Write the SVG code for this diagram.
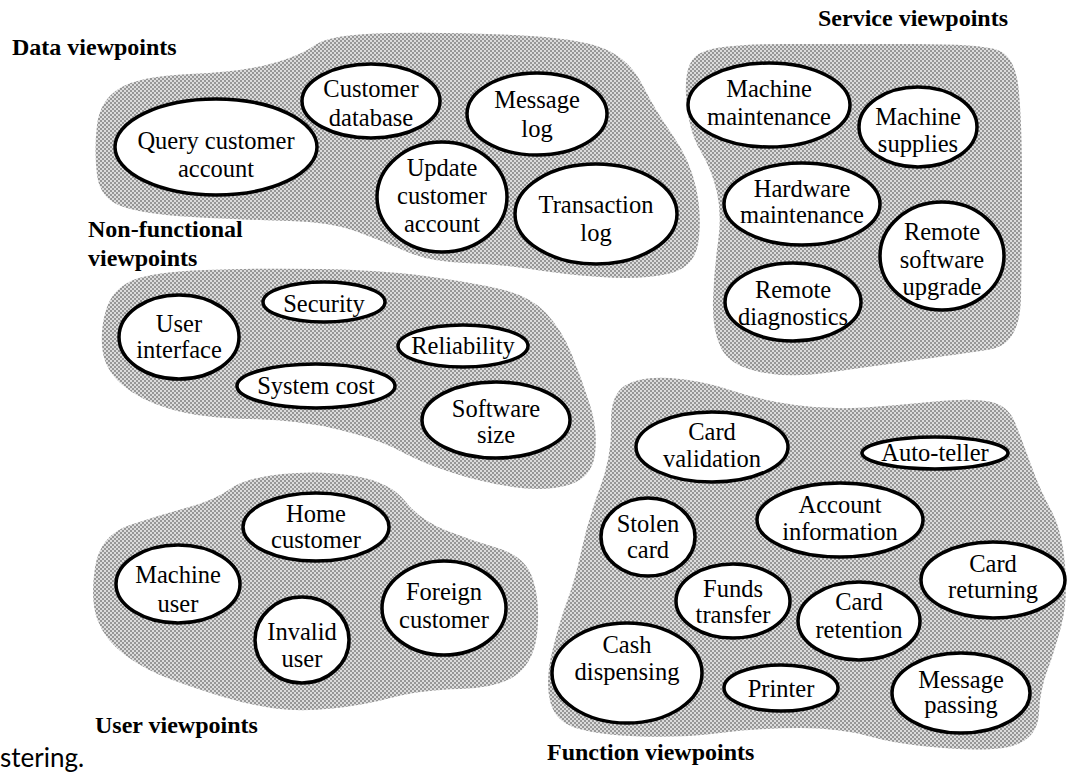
<svg xmlns="http://www.w3.org/2000/svg" width="1069" height="773" viewBox="0 0 1069 773">
  <defs>
    <!-- halftone screen used for the viewpoint regions -->
    <pattern id="screen" width="4" height="4" patternUnits="userSpaceOnUse">
      <rect width="4" height="4" fill="#dcdcdc"/>
      <circle cx="1" cy="1" r="0.8" fill="#404040"/>
      <circle cx="3" cy="3" r="0.8" fill="#404040"/>
    </pattern>
  </defs>
  <style>
    .region { fill: url(#screen); stroke: none; }
    .node ellipse { fill: #ffffff; stroke: #000000; stroke-width: 3.5; }
    .node text { font-family: "Liberation Serif", "Times New Roman", serif; font-size: 24.5px; fill: #000; text-anchor: middle; }
    .label { font-family: "Liberation Serif", "Times New Roman", serif; font-size: 24px; font-weight: bold; fill: #000; }
    .caption { font-family: Lato, "Open Sans", sans-serif; font-size: 26px; fill: #000; }
  </style>

  <rect width="1069" height="773" fill="#ffffff"/>

  <!-- viewpoint regions -->
  <g id="regions">
    <path id="region-data" class="region" d="M97,175 Q94,150 97,125 Q100,100 120,88 Q140,76 190,74 Q240,72 270,64 Q300,56 315,45 Q330,34 390,33 Q450,32 515,35 Q580,38 605,49 Q630,60 642.5,85 Q655,110 672.5,135 Q690,160 696,187.5 Q702,215 698.5,241.5 Q695,268 667.5,274 Q640,280 600,277 Q560,274 530,269 Q500,264 465,263 Q430,262 405,251 Q380,240 355,231 Q330,222 290,221 Q250,220 200,217.5 Q150,215 125,207.5 Q100,200 97,175 Z"/>
    <path id="region-service" class="region" d="M686,95 Q684,58 703,52 Q720,44 785,44 Q850,44 915,44 Q980,44 997.5,50 Q1015,56 1018.5,88 Q1022,120 1022,185 Q1022,250 1021,297.5 Q1020,345 990,349.5 Q960,354 910,361 Q860,368 825,373 Q790,378 760,372 Q730,366 721,348 Q712,330 713,300 Q714,270 718,242.5 Q722,215 717,192.5 Q712,170 700,150 Q688,130 686,95 Z"/>
    <path id="region-nonfunctional" class="region" d="M102.5,350 Q100,330 106,310 Q112,290 131,281 Q150,272 205,270 Q260,268 320,269 Q380,270 425,276 Q470,282 500,289 Q530,296 546,313 Q562,330 572,355 Q582,380 590,405 Q598,430 595,454 Q592,478 568.5,485 Q545,492 512.5,487 Q480,482 450,472 Q420,462 400,451 Q380,440 340,430 Q300,420 250,419 Q200,418 170,409 Q140,400 122.5,385 Q105,370 102.5,350 Z"/>
    <path id="region-user" class="region" d="M97.5,620 Q90,600 95,567.5 Q100,535 130,525 Q160,515 187.5,507.5 Q215,500 230,489 Q245,478 282.5,474 Q320,470 355,476 Q390,482 405,501 Q420,520 445,530 Q470,540 497.5,548 Q525,556 532.5,578 Q540,600 537.5,630 Q535,660 517.5,674 Q500,688 460,689 Q420,690 392.5,697.5 Q365,705 332.5,708.5 Q300,712 275,708.5 Q250,705 225,697.5 Q200,690 172.5,680 Q145,670 125,655 Q105,640 97.5,620 Z"/>
    <path id="region-function" class="region" d="M611,425 Q610,395 625,385.5 Q640,376 670,378 Q700,380 730,390 Q760,400 795,405 Q830,410 865,407.5 Q900,405 935,401.5 Q970,398 989,401.5 Q1008,405 1015,422.5 Q1022,440 1031,465 Q1040,490 1051,510 Q1062,530 1065,565 Q1068,600 1061.5,625 Q1055,650 1047.5,670 Q1040,690 1039,712.5 Q1038,735 1019,743.5 Q1000,752 950,748.5 Q900,745 870,736.5 Q840,728 800,728 Q760,728 720,733 Q680,738 640,736.5 Q600,735 577.5,728.5 Q555,722 550,701 Q545,680 552.5,650 Q560,620 567.5,600 Q575,580 581.5,550 Q588,520 600,487.5 Q612,455 611,425 Z"/>
  </g>

  <!-- region titles -->
  <g id="titles">
    <text class="label" x="12" y="55">Data viewpoints</text>
    <text class="label" x="818" y="26">Service viewpoints</text>
    <text class="label" x="88" y="237">Non-functional</text>
    <text class="label" x="88" y="266">viewpoints</text>
    <text class="label" x="95" y="733">User viewpoints</text>
    <text class="label" x="547" y="760">Function viewpoints</text>
    <text class="caption" x="0" y="767">stering.</text>
  </g>

  <!-- data viewpoints -->
  <g id="query-customer-account" class="node">
    <ellipse cx="216" cy="147" rx="101" ry="48"/>
    <text x="216" y="149">Query customer</text>
    <text x="216" y="177">account</text>
  </g>
  <g id="customer-database" class="node">
    <ellipse cx="371" cy="101" rx="69" ry="37"/>
    <text x="371" y="97">Customer</text>
    <text x="371" y="126">database</text>
  </g>
  <g id="message-log" class="node">
    <ellipse cx="537" cy="114" rx="70" ry="41"/>
    <text x="537" y="108">Message</text>
    <text x="537" y="137">log</text>
  </g>
  <g id="update-customer-account" class="node">
    <ellipse cx="442" cy="197" rx="65" ry="55"/>
    <text x="442" y="176">Update</text>
    <text x="442" y="204">customer</text>
    <text x="442" y="232">account</text>
  </g>
  <g id="transaction-log" class="node">
    <ellipse cx="596" cy="214" rx="81" ry="50"/>
    <text x="596" y="213">Transaction</text>
    <text x="596" y="241">log</text>
  </g>

  <!-- service viewpoints -->
  <g id="machine-maintenance" class="node">
    <ellipse cx="769" cy="105" rx="81" ry="42"/>
    <text x="769" y="97">Machine</text>
    <text x="769" y="125">maintenance</text>
  </g>
  <g id="machine-supplies" class="node">
    <ellipse cx="918" cy="127" rx="59" ry="40"/>
    <text x="918" y="125">Machine</text>
    <text x="918" y="152">supplies</text>
  </g>
  <g id="hardware-maintenance" class="node">
    <ellipse cx="802" cy="204" rx="78" ry="41"/>
    <text x="802" y="197">Hardware</text>
    <text x="802" y="223">maintenance</text>
  </g>
  <g id="remote-software-upgrade" class="node">
    <ellipse cx="942" cy="256" rx="62" ry="54"/>
    <text x="942" y="240">Remote</text>
    <text x="942" y="268">software</text>
    <text x="942" y="295">upgrade</text>
  </g>
  <g id="remote-diagnostics" class="node">
    <ellipse cx="793" cy="302" rx="68" ry="39"/>
    <text x="793" y="298">Remote</text>
    <text x="793" y="325">diagnostics</text>
  </g>

  <!-- non-functional viewpoints -->
  <g id="user-interface" class="node">
    <ellipse cx="179" cy="337" rx="60" ry="42"/>
    <text x="179" y="332">User</text>
    <text x="179" y="358">interface</text>
  </g>
  <g id="security" class="node">
    <ellipse cx="324" cy="302" rx="61" ry="20"/>
    <text x="324" y="312">Security</text>
  </g>
  <g id="reliability" class="node">
    <ellipse cx="463" cy="346" rx="65" ry="21"/>
    <text x="463" y="354">Reliability</text>
  </g>
  <g id="system-cost" class="node">
    <ellipse cx="316" cy="386" rx="79" ry="22"/>
    <text x="316" y="394">System cost</text>
  </g>
  <g id="software-size" class="node">
    <ellipse cx="496" cy="420" rx="74" ry="38"/>
    <text x="496" y="417">Software</text>
    <text x="496" y="443">size</text>
  </g>

  <!-- user viewpoints -->
  <g id="home-customer" class="node">
    <ellipse cx="316" cy="527" rx="73" ry="34"/>
    <text x="316" y="522">Home</text>
    <text x="316" y="548">customer</text>
  </g>
  <g id="machine-user" class="node">
    <ellipse cx="178" cy="584" rx="62" ry="39"/>
    <text x="178" y="583">Machine</text>
    <text x="178" y="612">user</text>
  </g>
  <g id="invalid-user" class="node">
    <ellipse cx="302" cy="640" rx="47" ry="43"/>
    <text x="302" y="640">Invalid</text>
    <text x="302" y="667">user</text>
  </g>
  <g id="foreign-customer" class="node">
    <ellipse cx="444" cy="608" rx="62" ry="47"/>
    <text x="444" y="600">Foreign</text>
    <text x="444" y="628">customer</text>
  </g>

  <!-- function viewpoints -->
  <g id="card-validation" class="node">
    <ellipse cx="712" cy="447" rx="76" ry="35"/>
    <text x="712" y="440">Card</text>
    <text x="712" y="467">validation</text>
  </g>
  <g id="auto-teller" class="node">
    <ellipse cx="935" cy="453" rx="73" ry="16"/>
    <text x="935" y="461">Auto-teller</text>
  </g>
  <g id="stolen-card" class="node">
    <ellipse cx="648" cy="537" rx="47" ry="39"/>
    <text x="648" y="532">Stolen</text>
    <text x="648" y="558">card</text>
  </g>
  <g id="account-information" class="node">
    <ellipse cx="840" cy="520" rx="83" ry="37"/>
    <text x="840" y="513">Account</text>
    <text x="840" y="540">information</text>
  </g>
  <g id="card-returning" class="node">
    <ellipse cx="993" cy="580" rx="72" ry="38"/>
    <text x="993" y="572">Card</text>
    <text x="993" y="598">returning</text>
  </g>
  <g id="funds-transfer" class="node">
    <ellipse cx="733" cy="601" rx="57" ry="37"/>
    <text x="733" y="597">Funds</text>
    <text x="733" y="623">transfer</text>
  </g>
  <g id="card-retention" class="node">
    <ellipse cx="859" cy="621" rx="61" ry="39"/>
    <text x="859" y="610">Card</text>
    <text x="859" y="638">retention</text>
  </g>
  <g id="cash-dispensing" class="node">
    <ellipse cx="627" cy="673" rx="75" ry="50"/>
    <text x="627" y="653">Cash</text>
    <text x="627" y="680">dispensing</text>
  </g>
  <g id="printer" class="node">
    <ellipse cx="781" cy="688" rx="57" ry="23"/>
    <text x="781" y="697">Printer</text>
  </g>
  <g id="message-passing" class="node">
    <ellipse cx="961" cy="693" rx="69" ry="40"/>
    <text x="961" y="688">Message</text>
    <text x="961" y="713">passing</text>
  </g>
</svg>
